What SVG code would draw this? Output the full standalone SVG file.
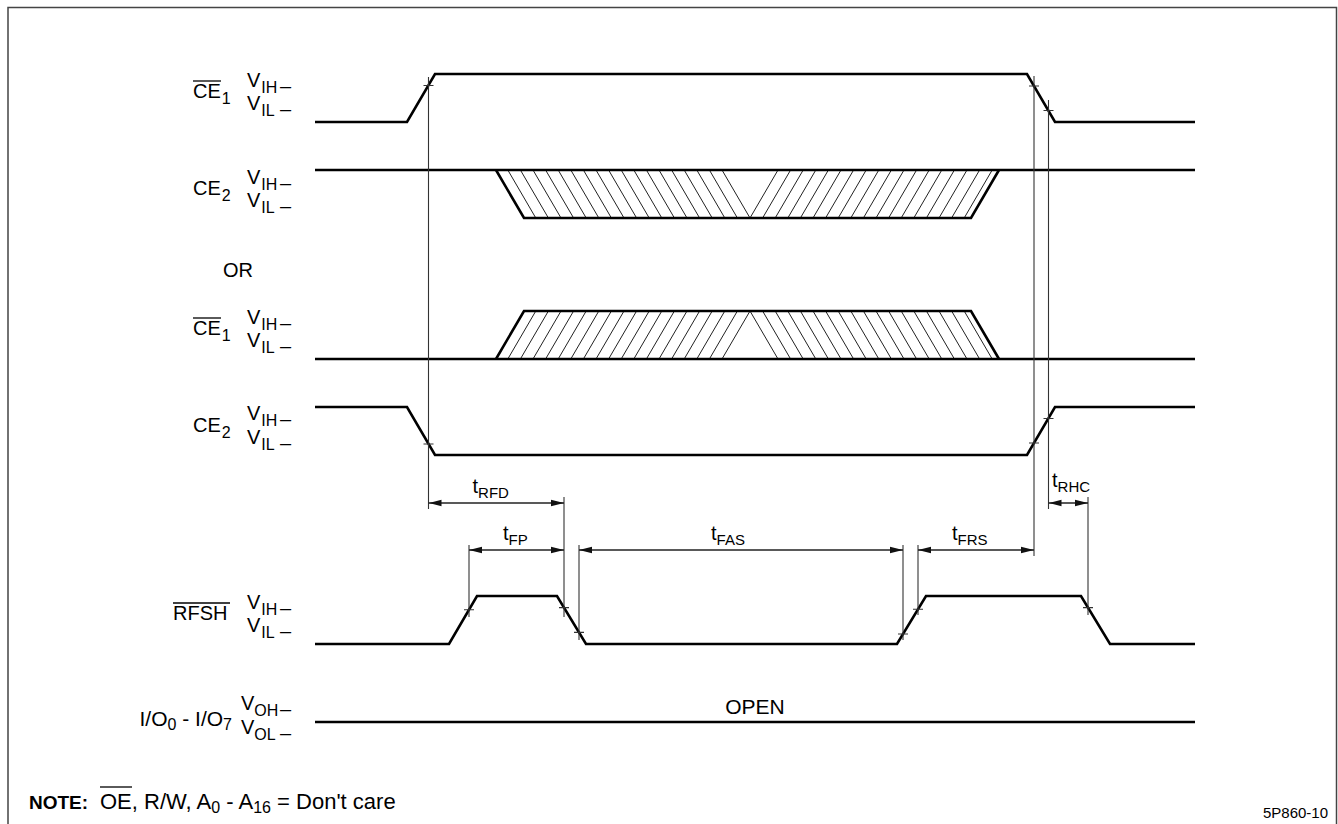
<svg xmlns="http://www.w3.org/2000/svg" width="1338" height="824" viewBox="0 0 1338 824">
<style>
text{font-family:"Liberation Sans",Arial,Helvetica,sans-serif;fill:#000}
.lbl{font-size:20px}
.sub{font-size:16px}
.tsub{font-size:15px}
.sig{fill:none;stroke:#000;stroke-width:2.6;stroke-linejoin:miter}
.hatch{fill:none;stroke:#222;stroke-width:1}
.ref{fill:none;stroke:#333;stroke-width:1.1}
.tick{fill:none;stroke:#333;stroke-width:1.1}
.dim{fill:none;stroke:#222;stroke-width:1.3;marker-start:url(#ah);marker-end:url(#ah)}
.ovl{stroke:#000;stroke-width:1.3}
</style>
<defs>
<marker id="ah" viewBox="0 -4 13 8" refX="13" refY="0" markerWidth="13" markerHeight="8" markerUnits="userSpaceOnUse" orient="auto-start-reverse">
<path d="M0,-3.2 L13,0 L0,3.2 Z" fill="#111"/>
</marker>
</defs>
<rect x="0" y="0" width="1338" height="824" fill="#fff"/>
<rect x="8" y="7.5" width="1328.5" height="840" fill="none" stroke="#444" stroke-width="1.5"/>

<g id="sig-ce1">
<line class="ovl" x1="193" y1="81" x2="221" y2="81"/>
<text class="lbl" x="193" y="98">CE<tspan class="sub" dx="1" dy="6">1</tspan></text>
<text class="lbl" x="247" y="86.5">V<tspan class="sub" dx="1" dy="6">IH</tspan></text><text class="lbl" x="280" y="92.5">–</text>
<text class="lbl" x="247" y="110">V<tspan class="sub" dx="1" dy="6">IL</tspan></text><text class="lbl" x="280" y="116">–</text>
<path class="sig" d="M315,122 H407 L435,74 H1027 L1055,122 H1195"/>
</g>

<g id="sig-ce2">
<text class="lbl" x="193" y="195">CE<tspan class="sub" dx="1" dy="6">2</tspan></text>
<text class="lbl" x="247" y="183.5">V<tspan class="sub" dx="1" dy="6">IH</tspan></text><text class="lbl" x="280" y="189.5">–</text>
<text class="lbl" x="247" y="207">V<tspan class="sub" dx="1" dy="6">IL</tspan></text><text class="lbl" x="280" y="213">–</text>
<path class="hatch" d="M722,170l28,48M709.4,170l28,48M696.8,170l28,48M684.2,170l28,48M671.6,170l28,48M659,170l28,48M646.4,170l28,48M633.8,170l28,48M621.2,170l28,48M608.6,170l28,48M596,170l28,48M583.4,170l28,48M570.8,170l28,48M558.2,170l28,48M545.6,170l28,48M533,170l28,48M520.4,170l28,48M507.8,170l28,48
M750,218l28,-48M762.6,218l28,-48M775.2,218l28,-48M787.8,218l28,-48M800.4,218l28,-48M813,218l28,-48M825.6,218l28,-48M838.2,218l28,-48M850.8,218l28,-48M863.4,218l28,-48M876,218l28,-48M888.6,218l28,-48M901.2,218l28,-48M913.8,218l28,-48M926.4,218l28,-48M939,218l28,-48M951.6,218l28,-48M964.2,218l28,-48"/>
<path class="sig" d="M315,170 H1195"/>
<path class="sig" d="M496,170 L524,218 H971 L999,170"/>
</g>

<g id="or-label">
<text class="lbl" x="223" y="277">OR</text>
</g>

<g id="sig-ce1-alt">
<line class="ovl" x1="193" y1="318" x2="221" y2="318"/>
<text class="lbl" x="193" y="335">CE<tspan class="sub" dx="1" dy="6">1</tspan></text>
<text class="lbl" x="247" y="323.5">V<tspan class="sub" dx="1" dy="6">IH</tspan></text><text class="lbl" x="280" y="329.5">–</text>
<text class="lbl" x="247" y="347">V<tspan class="sub" dx="1" dy="6">IL</tspan></text><text class="lbl" x="280" y="353">–</text>
<path class="hatch" d="M722,359l28,-48M709.4,359l28,-48M696.8,359l28,-48M684.2,359l28,-48M671.6,359l28,-48M659,359l28,-48M646.4,359l28,-48M633.8,359l28,-48M621.2,359l28,-48M608.6,359l28,-48M596,359l28,-48M583.4,359l28,-48M570.8,359l28,-48M558.2,359l28,-48M545.6,359l28,-48M533,359l28,-48M520.4,359l28,-48M507.8,359l28,-48
M750,311l28,48M762.6,311l28,48M775.2,311l28,48M787.8,311l28,48M800.4,311l28,48M813,311l28,48M825.6,311l28,48M838.2,311l28,48M850.8,311l28,48M863.4,311l28,48M876,311l28,48M888.6,311l28,48M901.2,311l28,48M913.8,311l28,48M926.4,311l28,48M939,311l28,48M951.6,311l28,48M964.2,311l28,48"/>
<path class="sig" d="M315,359 H1195"/>
<path class="sig" d="M496,359 L524,311 H971 L999,359"/>
</g>

<g id="sig-ce2-alt">
<text class="lbl" x="193" y="432">CE<tspan class="sub" dx="1" dy="6">2</tspan></text>
<text class="lbl" x="247" y="420">V<tspan class="sub" dx="1" dy="6">IH</tspan></text><text class="lbl" x="280" y="426">–</text>
<text class="lbl" x="247" y="443.5">V<tspan class="sub" dx="1" dy="6">IL</tspan></text><text class="lbl" x="280" y="449.5">–</text>
<path class="sig" d="M315,407 H407 L435,455 H1027 L1055,407 H1195"/>
</g>

<g id="sig-rfsh">
<line class="ovl" x1="173" y1="603" x2="230" y2="603"/>
<text class="lbl" x="173" y="620">RFSH</text>
<text class="lbl" x="247" y="608.5">V<tspan class="sub" dx="1" dy="6">IH</tspan></text><text class="lbl" x="280" y="614.5">–</text>
<text class="lbl" x="247" y="632">V<tspan class="sub" dx="1" dy="6">IL</tspan></text><text class="lbl" x="280" y="638">–</text>
<path class="sig" d="M315,644 H449 L477,596 H557 L586,644 H897 L926,596 H1081 L1110,644 H1195"/>
</g>

<g id="sig-io">
<text x="232" y="726" font-size="21" text-anchor="end">I/O<tspan class="sub" dy="4">0</tspan><tspan dy="-4"> - I/O</tspan><tspan class="sub" dy="4">7</tspan></text>
<text class="lbl" x="241" y="710">V<tspan class="sub" dy="6">OH</tspan></text><text class="lbl" x="280" y="716">–</text>
<text class="lbl" x="241" y="734">V<tspan class="sub" dy="6">OL</tspan></text><text class="lbl" x="280" y="740">–</text>
<path class="sig" d="M315,722 H1195"/>
<text x="755" y="714" font-size="21" text-anchor="middle">OPEN</text>
</g>

<g id="connectors">
<line class="ref" x1="428.5" y1="77" x2="428.5" y2="509"/>
<line class="ref" x1="1034" y1="76" x2="1034" y2="556"/>
<line class="ref" x1="1048.5" y1="100" x2="1048.5" y2="509"/>
<line class="ref" x1="564" y1="497" x2="564" y2="617"/>
<line class="ref" x1="469" y1="545" x2="469" y2="617"/>
<line class="ref" x1="579" y1="545" x2="579" y2="640"/>
<line class="ref" x1="903" y1="545" x2="903" y2="640"/>
<line class="ref" x1="918" y1="545" x2="918" y2="615"/>
<line class="ref" x1="1088" y1="497" x2="1088" y2="615"/>
<path class="tick" d="M423.5,85.5h10M1029,86h10M1043.5,110.5h10M423.5,444h10M1029,443h10M1043.5,418.5h10M464,609.7h10M559,607.6h10M574,632.4h10M898,634h10M913,609.2h10M1083,607.6h10"/>
<line class="dim" x1="428.5" y1="503" x2="564" y2="503"/>
<line class="dim" x1="469" y1="550" x2="564" y2="550"/>
<line class="dim" x1="579" y1="550" x2="903" y2="550"/>
<line class="dim" x1="918" y1="550" x2="1034" y2="550"/>
<line class="dim" x1="1048.5" y1="503" x2="1088" y2="503"/>
<text class="lbl" x="472.5" y="493">t<tspan class="tsub" dy="5">RFD</tspan></text>
<text class="lbl" x="503" y="540">t<tspan class="tsub" dy="5">FP</tspan></text>
<text class="lbl" x="711" y="540">t<tspan class="tsub" dy="5">FAS</tspan></text>
<text class="lbl" x="952" y="540">t<tspan class="tsub" dy="5">FRS</tspan></text>
<text class="lbl" x="1052" y="487">t<tspan class="tsub" dy="5">RHC</tspan></text>
</g>

<g id="note">
<line class="ovl" x1="100" y1="787" x2="132" y2="787"/>
<text x="29" y="809" font-size="22"><tspan font-weight="bold" font-size="19">NOTE:</tspan><tspan x="100">OE, R/W, A</tspan><tspan font-size="16" dy="4">0</tspan><tspan dy="-4"> - A</tspan><tspan font-size="16" dy="4">16</tspan><tspan dy="-4"> = Don't care</tspan></text>
<text x="1328" y="818" font-size="15" text-anchor="end">5P860-10</text>
</g>
</svg>
